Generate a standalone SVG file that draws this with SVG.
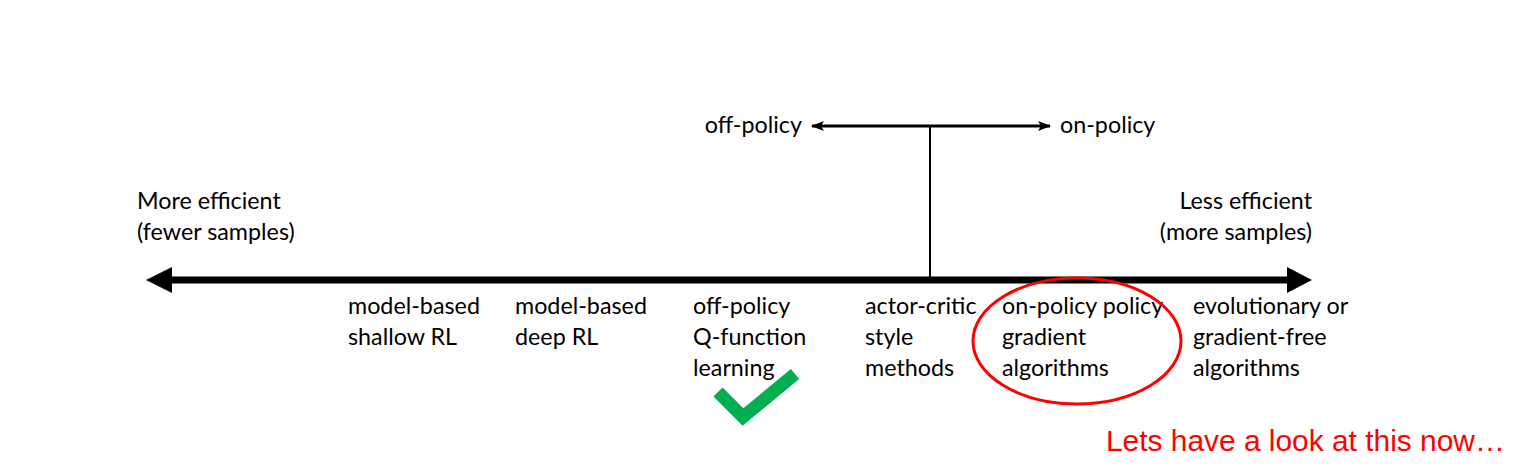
<svg xmlns="http://www.w3.org/2000/svg" width="1522" height="473" viewBox="0 0 1522 473">
<style>
.t{font-family:Lato,"Open Sans",sans-serif;font-size:23.3px;fill:#000}
.r{font-family:"Liberation Sans",Arial,sans-serif;font-size:29.9px;fill:#ff0000}
</style>
<defs>
<marker id="ah" markerWidth="13" markerHeight="10" refX="12" refY="5" orient="auto-start-reverse" markerUnits="userSpaceOnUse">
<path d="M0,0 L13,5 L0,10 L3,5 Z" fill="#000"/>
</marker>
</defs>
<rect width="1522" height="473" fill="#fff"/>
<g id="connectors">
<line x1="172" y1="280" x2="1287" y2="280" stroke="#000" stroke-width="7"/>
<polygon points="146,280 172,267 172,293" fill="#000"/>
<polygon points="1312,280 1287,267 1287,293" fill="#000"/>
<line x1="930" y1="126" x2="930" y2="278" stroke="#000" stroke-width="2"/>
<line x1="812" y1="126" x2="1050" y2="126" stroke="#000" stroke-width="3" marker-start="url(#ah)" marker-end="url(#ah)"/>
</g>
<g id="offpolicy"><text class="t" x="802" y="133" text-anchor="end">off-policy</text></g>
<g id="onpolicy"><text class="t" x="1060" y="133">on-policy</text></g>
<g id="more-efficient"><text class="t" x="137" y="209">More efficient</text><text class="t" x="137" y="240">(fewer samples)</text></g>
<g id="less-efficient"><text class="t" x="1312" y="209" text-anchor="end">Less efficient</text><text class="t" x="1312" y="240" text-anchor="end">(more samples)</text></g>
<g id="mb-shallow"><text class="t" x="348" y="314">model-based</text><text class="t" x="348" y="345">shallow RL</text></g>
<g id="mb-deep"><text class="t" x="515" y="314">model-based</text><text class="t" x="515" y="345">deep RL</text></g>
<g id="q-learning"><text class="t" x="693" y="314">off-policy</text><text class="t" x="693" y="345">Q-function</text><text class="t" x="693" y="376">learning</text></g>
<g id="actor-critic"><text class="t" x="865" y="314">actor-critic</text><text class="t" x="865" y="345">style</text><text class="t" x="865" y="376">methods</text></g>
<g id="pg"><text class="t" x="1002" y="314">on-policy policy</text><text class="t" x="1002" y="345">gradient</text><text class="t" x="1002" y="376">algorithms</text></g>
<g id="evo"><text class="t" x="1193" y="314">evolutionary or</text><text class="t" x="1193" y="345">gradient-free</text><text class="t" x="1193" y="376">algorithms</text></g>
<g id="highlight"><ellipse cx="1077" cy="341" rx="104" ry="63" fill="none" stroke="#ff0000" stroke-width="3"/></g>
<g id="check"><polyline points="718,392 743,417 795,374" fill="none" stroke="#00b050" stroke-width="13"/></g>
<g id="note"><text class="r" x="1106" y="451">Lets have a look at this now…</text></g>
</svg>
